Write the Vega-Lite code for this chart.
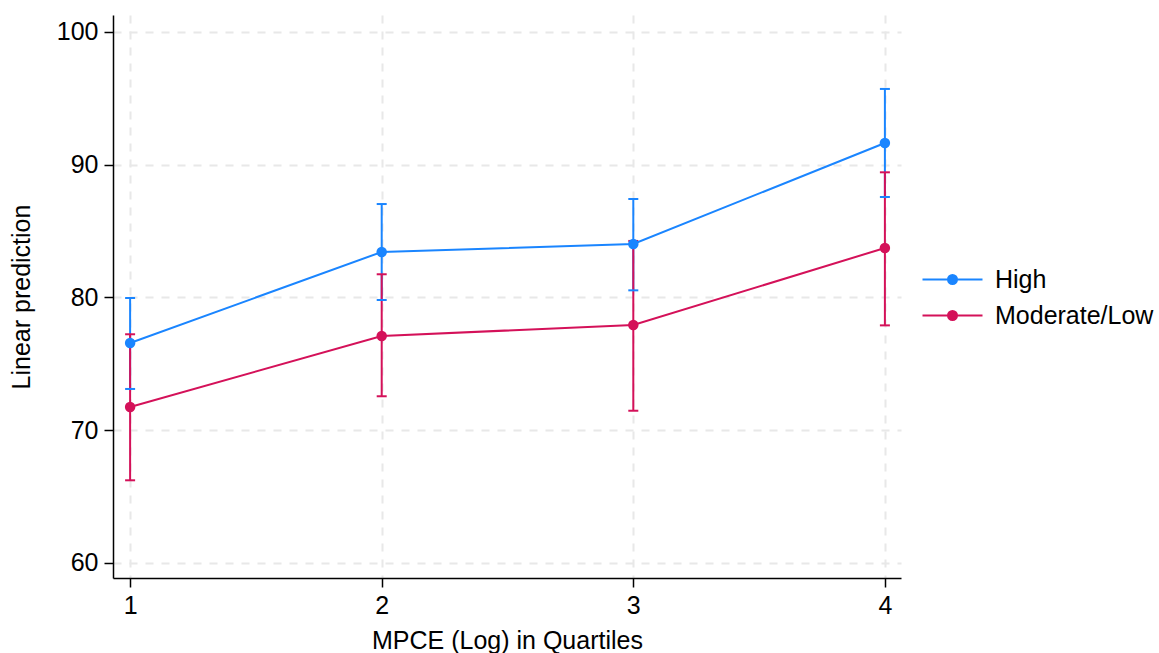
{
  "$schema": "https://vega.github.io/schema/vega-lite/v6.json",
  "autosize": "none",
  "width": 788,
  "height": 563,
  "padding": {"left": 113, "top": 15, "right": 258, "bottom": 75},
  "background": "white",
  "config": {
    "font": "Liberation Sans",
    "view": {"stroke": null},
    "axis": {
      "domainColor": "#000000",
      "domainWidth": 1.5,
      "tickColor": "#000000",
      "tickWidth": 1.5,
      "tickSize": 9,
      "labelFont": "Liberation Sans",
      "labelFontSize": 25,
      "labelColor": "#000000",
      "titleFont": "Liberation Sans",
      "titleFontSize": 25,
      "titleFontWeight": "normal",
      "titleColor": "#000000",
      "grid": true,
      "gridColor": "#e8e8e8",
      "gridWidth": 2,
      "gridDash": [8, 8]
    }
  },
  "data": {
    "values": [
      {"q": 1, "group": "High", "est": 76.57, "lo": 73.11, "hi": 79.96},
      {"q": 2, "group": "High", "est": 83.43, "lo": 79.81, "hi": 87.04},
      {"q": 3, "group": "High", "est": 84.03, "lo": 80.54, "hi": 87.42},
      {"q": 4, "group": "High", "est": 91.64, "lo": 87.57, "hi": 95.71},
      {"q": 1, "group": "Moderate/Low", "est": 71.75, "lo": 66.23, "hi": 77.23},
      {"q": 2, "group": "Moderate/Low", "est": 77.10, "lo": 72.56, "hi": 81.75},
      {"q": 3, "group": "Moderate/Low", "est": 77.93, "lo": 71.47, "hi": 84.26},
      {"q": 4, "group": "Moderate/Low", "est": 83.73, "lo": 77.90, "hi": 89.43}
    ]
  },
  "encoding": {
    "x": {
      "field": "q",
      "type": "quantitative",
      "scale": {"domain": [0.932, 4.064], "nice": false, "zero": false},
      "axis": {"values": [1, 2, 3, 4], "format": "d", "title": "MPCE (Log) in Quartiles", "labelPadding": 6, "titlePadding": 10, "labelFontSize": 25, "titleFontSize": 25}
    },
    "color": {
      "field": "group",
      "type": "nominal",
      "scale": {"domain": ["High", "Moderate/Low"], "range": ["#1a85ff", "#d41159"]},
      "legend": {
        "title": null,
        "orient": "none",
        "legendX": 827,
        "legendY": 252,
        "padding": 0,
        "labelFontSize": 25,
        "labelColor": "#000000",
        "labelFont": "Liberation Sans",
        "symbolType": "M-3,0H3M0.45,0A0.45,0.45,0,1,1,-0.45,0A0.45,0.45,0,1,1,0.45,0Z",
        "symbolSize": 400,
        "symbolStrokeWidth": 2,
        "labelOffset": 30,
        "rowPadding": 10,
        "encode": {
          "symbols": {
            "update": {
              "fill": {"scale": "color", "field": "value"},
              "stroke": {"scale": "color", "field": "value"},
              "strokeWidth": {"value": 2}
            }
          }
        }
      }
    }
  },
  "layer": [
    {
      "mark": {"type": "rule", "strokeWidth": 2},
      "encoding": {
        "y": {"field": "lo", "type": "quantitative"},
        "y2": {"field": "hi"}
      }
    },
    {
      "mark": {"type": "tick", "orient": "horizontal", "size": 10, "thickness": 2, "opacity": 1},
      "encoding": {
        "y": {"field": "lo", "type": "quantitative"}
      }
    },
    {
      "mark": {"type": "tick", "orient": "horizontal", "size": 10, "thickness": 2, "opacity": 1},
      "encoding": {
        "y": {"field": "hi", "type": "quantitative"}
      }
    },
    {
      "mark": {"type": "line", "strokeWidth": 2, "point": {"filled": true, "size": 110, "opacity": 1}},
      "encoding": {
        "y": {
          "field": "est",
          "type": "quantitative",
          "scale": {"domain": [58.87, 101.28], "nice": false, "zero": false},
          "axis": {"values": [60, 70, 80, 90, 100], "title": "Linear prediction", "labelPadding": 6, "titlePadding": 22, "labelFontSize": 25, "titleFontSize": 25}
        }
      }
    }
  ],
  "resolve": {"scale": {"y": "shared"}}
}
